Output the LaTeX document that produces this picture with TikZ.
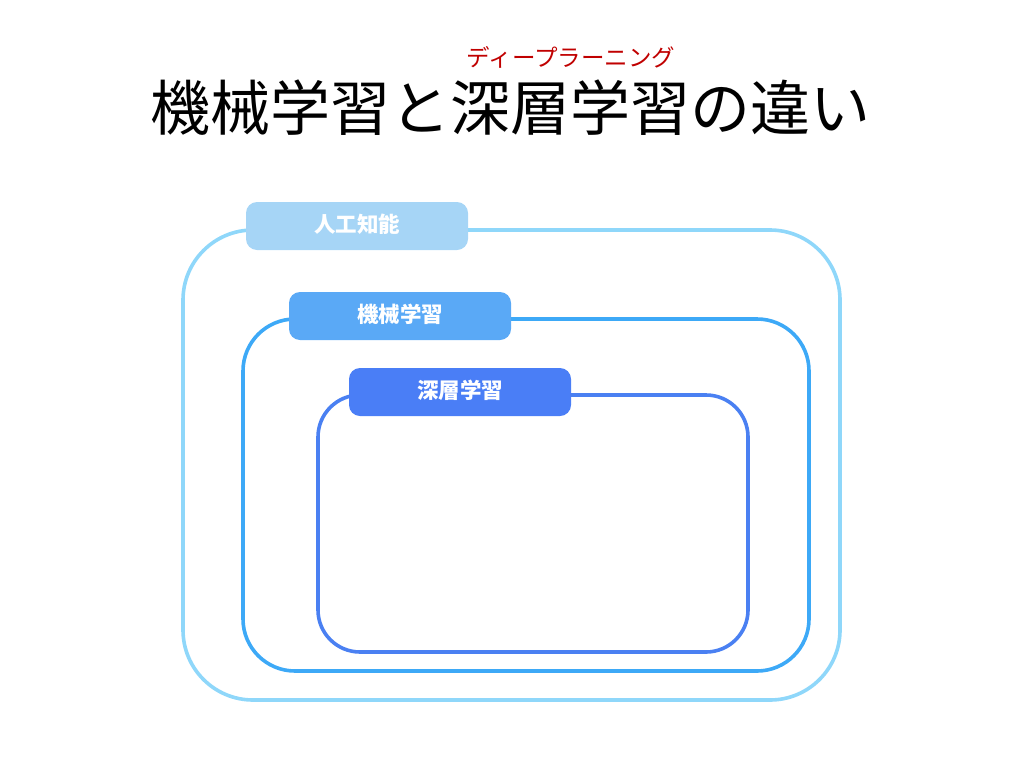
\documentclass[tikz,border=0pt]{standalone}
\usepackage{fontspec}
\newfontfamily\cjk{Noto Sans CJK JP}
\definecolor{ailine}{HTML}{8FD7FA}
\definecolor{aifill}{HTML}{A6D5F6}
\definecolor{mlline}{HTML}{3DA9F7}
\definecolor{mlfill}{HTML}{5AA9F6}
\definecolor{dlline}{HTML}{4A80F2}
\definecolor{dlfill}{HTML}{4A7EF6}
\definecolor{rubyred}{HTML}{C00000}

\begin{document}
\begin{tikzpicture}[x=1pt,y=1pt,
      frame/.style={line width=3.6pt},
      tag/.style={rounded corners=11pt,minimum width=222pt,minimum height=48pt,
        inner sep=0pt,text=white,font=\cjk\bfseries\fontsize{21.5}{21.5}\selectfont}]
      \useasboundingbox (0,0) rectangle (1024,-768);

      % nested areas
      \draw[frame,ailine,rounded corners=70pt] (183,-230) rectangle (840,-700);
      \draw[frame,mlline,rounded corners=52pt] (243,-319) rectangle (809,-671);
      \draw[frame,dlline,rounded corners=42pt] (318,-395) rectangle (748,-652);

      % labels
      \node[tag,fill=aifill] (ai) at (357,-226) {\raisebox{5pt}{人工知能}};
      \node[tag,fill=mlfill] (ml) at (400,-316) {\raisebox{5pt}{機械学習}};
      \node[tag,fill=dlfill] (dl) at (460,-392) {\raisebox{5pt}{深層学習}};

      % title
      \node[font=\cjk\fontsize{60}{60}\selectfont] (title) at (510,-108)
        {機械学習と深層学習の違い};
      \node[font=\cjk\fontsize{23.5}{23.5}\selectfont,text=rubyred] (ruby) at (571,-57)
        {ディープラーニング};
\end{tikzpicture}
\end{document}
